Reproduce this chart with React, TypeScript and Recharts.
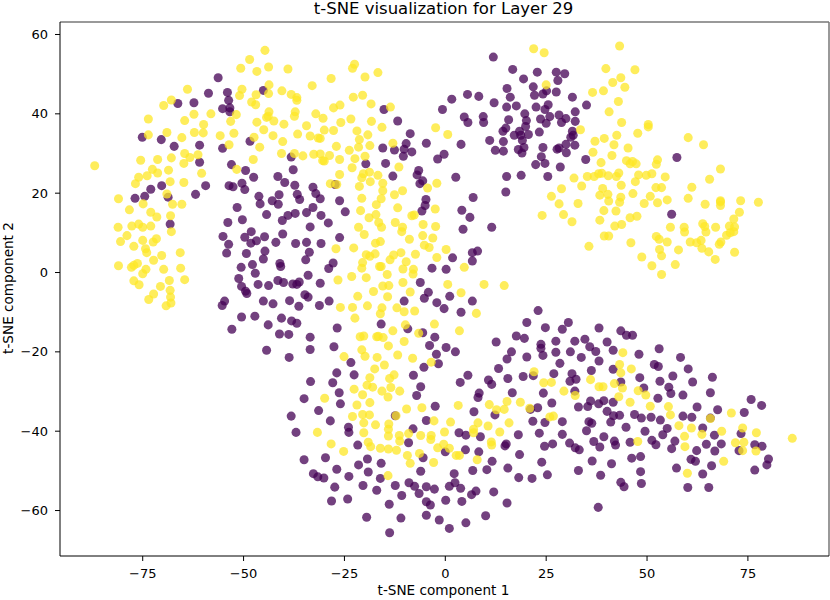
import { ScatterChart, Scatter, XAxis, YAxis, ZAxis, ReferenceLine } from "recharts";

const title = "t-SNE visualization for Layer 29";
const xLabel = "t-SNE component 1";
const yLabel = "t-SNE component 2";
const xTicks = [-75, -50, -25, 0, 25, 50, 75];
const yTicks = [-60, -40, -20, 0, 20, 40, 60];
const xRange: [number, number] = [-95.5, 95.1];
const yRange: [number, number] = [-71.46, 63.15];

// class 0 as [component 1, component 2]
const purplePoints: [number, number][] = [
  [-56.3,49.1],[-58.7,45.2],[-54,45.4],[-45.1,45.9],[-66.3,42.6],[-62.3,42.8],[-53.7,43.4],[-55.2,41.3],[-53.4,41.5],[-53.4,40.5],
  [-75.1,34.1],[-70.4,33.5],[-67.2,31.8],[-60.9,32.1],[-55.2,31.3],[-48.4,33.1],[-38.2,29.1],[-60.9,27.8],[-53,27.2],[-49.5,25.7],
  [-47.5,24],[-37.7,25.9],[-41.5,24.2],[-39.8,22.7],[-37.3,22],[-32.8,21.5],[-53.6,21.9],[-52.6,21.6],[-50.4,22.5],[-49.7,20.9],
  [-59.4,21.9],[-70.3,21.9],[-73,21],[-76.9,18.7],[-74.5,19.2],[-68.7,19],[-61.9,19.7],[-46.2,19.2],[-41.2,19.6],[-42.9,18.1],
  [-36.7,19.7],[-32.1,19.9],[-36.1,18.4],
  [11.9,54.3],[16.7,51.2],[22.8,50.5],[27.5,50.5],[29.6,50.1],[19.4,48.8],[27.9,48.4],[21.8,46.8],[15.3,46.4],[22.1,44.7],[24.2,45],
  [25.1,45.8],[27.5,45.5],[16.1,44.2],[31.5,44.2],[5.5,44.9],[8.3,44.4],[1.6,43.7],[12.1,42.8],[15.2,41.7],[17.6,42],[22.5,41.7],
  [25.5,42.3],[24.7,41.1],[-0.7,41.1],[-15.2,41.1],[-11.8,38.2],[4.7,39.2],[5.6,37.8],[9.4,39.3],[9.5,37.8],[19.7,40],[20.1,38.3],
  [15.7,38.5],[23.6,38.7],[25.9,39.3],[28.2,39.7],[29.9,38.8],[28.8,37.8],[25,37.6],[32.2,40.5],[32.2,38.1],[19.9,36.8],[15,36.4],
  [14.3,35.6],[18.4,35.6],[17.1,34.6],[18.7,34.6],[20.6,34.8],[23.3,35.4],[31.5,35.6],[31.1,34.1],[31.7,34.6],[-8.7,35],[14.4,33],
  [11,33.3],[19.1,33.3],[-4.7,32.6],[3.9,32.3],[-9.7,32.5],[-10.2,31.1],[-15.5,31.4],[-12.6,30.9],[-8.3,30.4],[-10.4,29.3],[-0.3,29.8],
  [-1.9,28.6],[12.4,30.8],[14.4,30.6],[19.5,31.5],[18.1,31],[19,30.1],[24.2,31.5],[27.7,31.1],[28.2,31.4],[29.9,32.3],[30,30.2],
  [32.1,32.1],[23.8,29.2],[22.4,27.2],[24.7,27.5],[28.5,26.6],[-19.7,27.4],[-14.8,27.5],[-13,24.3],[-6.6,25.7],[-7,24.6],[-5.6,23.1],
  [-6.3,22.4],[2.6,24],[15.2,24.2],[18.8,24.5],[25.4,24.2],[-27.3,22.2],[15,20.3],[6.9,18.9],[-4.8,18.4],[-26.2,18.1],[-31,18.6],
  [35,42.2],[34.8,28.5],[57.4,29],[56.1,14.7],
  [-24.8,15.3],[-30.8,14.4],[-29,12.5],[-26.2,8.8],[-30.8,7.3],[-5,16.9],[-5.8,15.5],[4.1,15.7],[6.1,13.9],[4.4,10.9],[11.5,11.4],
  [1.8,3.7],[6.7,5],[8,5.4],[6.7,2.9],[-3.3,1.1],[0.2,0.8],[-27.8,2.4],[-28.9,1],[-31,-2.7],[-6.2,-2.5],[-4.2,-5],[-5.2,-6.5],[1.1,-6],
  [6.7,-7.2],[-28.8,-7.2],[-10.2,-7.2],[-2.1,-7.6],[-0.3,-9.1],[3.9,-10],[-31.2,-8.3],[23,-9.6],[20.2,-12.6],[30.5,-12.6],[24.8,-13.9],
  [29,-14.3],[-15.9,-13],[-9.3,-14.2],[-5.6,-15.2],[-26.8,-14],[-2.6,-16.3],[17.6,-16],[19.6,-16.6],[12.6,-17.5],[27.4,-17.3],[32.1,-17.3],
  [23.7,-18.1],[23.7,-19.1],[24.2,-20.9],[27.4,-20.1],[31,-20],[-27.6,-18.7],[-3.9,-18.4],[0.2,-18.9],[2.5,-20],[-2.2,-20.6],[16.4,-20],
  [15.3,-21.8],[20.2,-21.3],[-23.4,-22.7],[-1.7,-23],[-5.3,-23.9],[28.4,-22.9],[13.2,-24.2],
  [-68.2,12.2],[-51.6,16.4],[-44.3,14.6],[-45.9,17.3],[-41.4,17.2],[-39,14.4],[-37.2,14.9],[-34.4,15.1],[-32.8,16.4],[-40.4,13.1],
  [-53.9,12.6],[-50.3,13.3],[-33.5,11.5],[-55.1,9.1],[-48.1,10.3],[-49.7,8.9],[-44.8,9],[-40.3,9.7],[-48.2,7.4],[-46.8,8],[-42,7.6],
  [-37.1,7.3],[-34.4,7.6],[-53.7,7.1],[-54.2,4.9],[-49.3,4.8],[-44.7,5.4],[-33.7,5.1],[-45.1,3.4],[-34.6,3.2],[-41,2.3],[-40.8,1.5],
  [-47.8,2],[-50.6,1.3],[-47.1,-0.2],[-34,-0.7],[-51.2,-1.5],[-41.5,-2],[-40.1,-2.5],[-37.8,-2.9],[-36.8,-3],[-36.2,-2.4],[-46.4,-3],
  [-43.8,-3.3],[-50.5,-3.5],[-49.5,-4.7],[-49.2,-5.3],[-34.8,-5.6],[-34,-6.2],[-45.1,-7.2],[-42.7,-7.9],[-38.6,-7.1],[-36.3,-8.5],
  [-54.7,-7.2],[-55.3,-8.3],[-50.5,-11.2],[-47.2,-11],[-40.6,-11.5],[-38.1,-12.2],[-36.8,-12.8],[-43.9,-13.2],[-52.9,-14.3],[-41.1,-15.5],
  [-38.8,-15.6],[-33.5,-16.3],[-44.3,-19.6],[-33.5,-19.4],[-38.7,-21.4],
  [-26.9,-25.3],[-33.4,-27.5],[-27.9,-27.8],[-22.6,-25.8],[-7.9,-25.9],[5.6,-25.9],[3.7,-27.7],[10.7,-27.1],[11.5,-28.2],[15.5,-26.7],
  [19.3,-26.2],[-6.1,-28.8],[8.4,-30.4],[8.1,-31.5],[16.6,-30.3],[-26.3,-30.3],[-35,-31.8],[-7.1,-31],[-26,-33.1],[-2.5,-33.7],[-31.4,-34.8],
  [7.1,-35.1],[-38.2,-36.2],[12.3,-35.9],[-28.5,-37.4],[-12.4,-36.1],[-4.7,-37.3],[-24,-39],[-23.9,-40.3],[-37,-40.3],[-8,-39.4],[3.4,-40.4],
  [5.1,-41],[8.7,-41.4],[18.1,-40.9],[-9.1,-42.9],[-21.7,-43.5],[14.8,-43.7],[15.1,-43.2],[5,-44.7],[8.3,-45.2],[0,-45.2],[18.4,-45.9],
  [-5.5,-46.7],[-29.7,-46.7],[-35,-47.2],[-19.3,-47],[11.6,-47.6],[-21.5,-48.5],[-15.9,-48.1],[15.5,-49.3],[-26.9,-49.6],[6.8,-49.9],
  [10.3,-49.7],[-19.1,-50.3],[-6.1,-50.1],[-32.7,-50.7],[-31.6,-51.5],[-30.1,-51.8],[-23.9,-51.4],[-16.1,-51.9],[2.2,-50.7],[18.2,-51.7],
  [2.4,-53],[-9,-53],[-7.6,-53.9],[-20.4,-53.7],[-12.4,-53.7],[-4.7,-54],[-2.7,-54.6],[1,-53.9],[3.8,-54.4],[-27.4,-54.1],[-17,-54.9],
  [7.6,-55.1],[6.5,-56],[12,-55.3],[-6.5,-55.7],[-10.8,-56.2],[-28.2,-57.6],[-24.2,-57.1],[0.1,-57.4],[4.1,-57.7],[15.3,-58.1],[-13.9,-58.4],
  [-4.7,-57.8],[-3.7,-58.6],[-19.5,-61.7],[-11,-61.9],[-4.7,-61.2],[-1.5,-62.4],[10,-61.3],[5.1,-63.1],[1,-64.5],[-13.8,-65.6],
  [38.1,-14],[43.5,-14.7],[44.9,-15.8],[46.4,-15.8],[34.6,-16.8],[40.1,-17.5],[35.8,-18.7],[37.3,-19.9],[41.6,-19.6],[53,-19.2],[33.7,-21.4],
  [48,-20.6],[58.3,-21.4],[38.1,-22.3],[51.8,-23.2],[52.8,-23.7],[60.2,-24.3],[41.6,-24.4],[36.2,-24.7],[26.9,-25.5],[31.4,-25.5],[21.8,-26],
  [30.9,-27.4],[32.4,-26.9],[48.2,-26.5],[56.4,-26.1],[66.2,-26.4],[53.2,-27.4],[61.3,-27.6],[43.5,-27.6],[55.4,-28.9],[49.2,-29.1],[32.1,-29.9],
  [24.3,-30.4],[55.9,-30.5],[58.9,-30.9],[65.7,-30.3],[52.7,-31.7],[26.4,-32.9],[36,-32.4],[38,-33.1],[39.3,-32.3],[41.6,-32.7],[35.3,-33.8],
  [33,-33.9],[22.9,-34.1],[21.1,-34.5],[62.4,-33.9],[75.8,-32],[78.4,-33.5],[67.5,-34.6],[40.1,-35],[74.1,-35.3],[41.7,-36.1],[43.2,-36],
  [46.9,-35.8],[48.6,-36.7],[51,-36.5],[53.3,-37.2],[58.9,-36.2],[61.1,-36.5],[65.7,-36.7],[21.7,-37.5],[24.7,-37.8],[29,-37.6],[35.6,-37.6],
  [36.3,-38],[41,-37.7],[44.8,-39],[55,-39.3],[63.8,-39.2],[35,-39.9],[23.3,-40.5],[49.5,-40],[73.3,-40.6],[29,-40.8],[53.9,-40.9],[66.7,-41],
  [39.3,-41.4],[41.9,-42.5],[42.2,-43.5],[45.8,-42.8],[51.2,-42.3],[52.2,-43.4],[56.9,-42.5],[36.8,-42.6],[30.8,-43],[24.6,-43.8],[26.6,-43.2],
  [32.2,-44.2],[33.2,-44.7],[38.3,-44],[64.7,-43.3],[68.4,-43.2],[56.1,-44.4],[62.3,-44.9],[66.8,-45],[76.7,-43.4],[78.5,-43.8],[72.8,-44.9],
  [46.2,-46.8],[48.4,-46.4],[36.4,-47.5],[23.9,-47.8],[41.2,-48.2],[60.9,-47.1],[62,-47.6],[80.1,-47],[79.7,-48.5],[57.3,-49.3],[66,-48.7],
  [33,-49.9],[25.3,-51],[38.5,-51.1],[48.4,-50.2],[63.8,-50.8],[76.7,-49.8],[21.5,-51.9],[43.5,-52.9],[44.3,-54],[48.6,-53.2],[60.1,-54.2],
  [65.3,-54.2],[37.9,-59.2],
];

// class 1
const yellowPoints: [number, number][] = [
  [-86.9,26.9],[-44.7,56],[-48.5,53.7],[-50.7,51.5],[-46.7,50.7],[-43.8,51.8],[-39,51.3],[-33,47.1],[-63.9,46.2],[-50.4,46.2],[-51,44.6],
  [-43.7,47.3],[-43.8,45.1],[-46.9,44.8],[-48,43],[-47,42.3],[-40.5,45.8],[-38.2,44.9],[-36.8,44.1],[-36.8,43.4],[-67.9,43.5],[-69.8,42.1],
  [-73.6,38.7],[-62.3,39.9],[-64.6,38.3],[-58.1,40],[-51.8,39.8],[-53.2,38.1],[-59.9,37.3],[-43.7,40.5],[-43.9,39.4],[-44.3,39.1],[-42.5,38.2],
  [-46.7,37.9],[-37.2,40.5],[-37.4,39.4],[-32.1,40],[-40,37.4],[-45,36],[-34.4,37],[-69,35.3],[-73.6,34.7],[-62.2,35.3],[-60,35.2],[-65.3,34],
  [-55.8,34.5],[-52.4,35.1],[-47.4,34.1],[-42.7,34.5],[-40.3,33],[-36.6,34.9],[-33.5,34.4],[-31.5,33.9],[-53.6,32.2],[-46,31.6],[-64.6,30],
  [-61.3,29.7],[-67.9,28.9],[-63.3,29],[-71.3,28.5],[-75.5,28.3],[-64.8,27.5],[-47.6,28.5],[-40.6,30],[-37.4,30],[-35.3,29.4],[-32.6,29.8],
  [-31,29.9],[-72.6,26],[-71.3,25.1],[-68.6,25.8],[-73.9,24.4],[-76,24],[-60.4,25],[-51.7,26],[-76.8,22.4],[-68.2,22.9],[-64.8,22.7],[-81,18.6],
  [-69,19.8],
  [-22.5,52.5],[-23,51.5],[-28.3,48.9],[-19.9,49.3],[-16.7,50.4],[-22.8,44.2],[-20.5,44.7],[-27.7,41.5],[-26.1,42.2],[-18.4,42.5],[-13.6,41.7],
  [-30.3,38.9],[-25.9,37.8],[-23.4,38.7],[-18.3,38.1],[-15.7,36.6],[-30,35.9],[-27.7,35.8],[-21.9,35.7],[-19.2,34.7],[-31,33.8],[-21.3,33.5],
  [-21.5,31.6],[-18.7,32],[-27,31.8],[-23.8,30.8],[-13,32.6],[-28.7,29.5],[-30.4,28.2],[-30,28.1],[-26.2,28.5],[-22.4,28.7],[-19.9,29.3],
  [-23.1,26.4],[-11.5,26.6],[-26.2,24.7],[-18.8,25.3],[-20.3,24.9],[-20.7,23.9],[-16.7,24.5],[-28.5,22.4],[-26.9,22.2],[-18.6,22.9],[-21.3,21.7],
  [-15.5,22.5],[-15.5,20.6],[-10.6,20.6],[-12.6,19.6],[-20.7,18.7],[-15.9,18.6],[-4.4,21.3],[-2.1,22.5],[-2.4,36.5],[0.6,34.8],[21.9,56.4],
  [24.5,55.4],[25,47.3],[33.5,36],[31.9,23.8],[28.8,21.1],[26.3,19.2],
  [43.2,57.1],[39.8,51.4],[47,51.1],[43.5,49.1],[41.5,47.9],[44.5,46.7],[36.5,45.4],[39.2,45.8],[42.9,43.1],[40.6,40.5],[43.7,37.8],[50.3,37.3],
  [50.3,36.7],[47.7,35.1],[42.5,34.6],[39.4,33.8],[37.1,33.1],[41.8,32.2],[45.3,31.4],[60.2,34],[64,32.2],[36.6,30.3],[41.3,29.5],[38.6,27.7],
  [44.9,28.2],[45.8,27.4],[46.4,28],[47.3,27.4],[52.6,28.4],[52.3,27.3],[68.2,26.1],[35.2,24.2],[36.9,24.2],[38,24.9],[38.8,25],[40.4,24.4],
  [42.4,24.2],[43,25.1],[47.9,24.6],[49.8,24.5],[51.2,24.9],[54.5,24.1],[65.5,23.5],[33.8,21.8],[43.6,22],[47.1,22.9],[61.1,21.5],[52.2,21.4],
  [53.6,21.4],[39,21.2],[38.3,19.5],[40.3,19.7],[43.5,19],[46.5,19.9],[50.8,19.2],[60.2,18.7],[55,18.3],[68.2,18.1],[73.2,18.1],[77.6,17.7],
  [32.9,17.4],[40.5,18],[43.2,17.7],[49.3,17.4],[52.6,17.6],[64.4,17.2],[68.2,17.8],[68.2,16.9],[39.3,15.6],[42.3,15.5],[72.9,15.2],[71.5,13.5],
  [31.4,12.8],[38.3,13.2],[45.8,13.8],[47.5,14.2],[42,11.7],[43.7,12.1],[55.8,11.4],[59.2,11.4],[59.3,10.2],[63.8,12.3],[64.3,11.6],[64.6,10.2],
  [67,11.4],[70.4,11.7],[71.7,11.5],[71.5,10.3],[70.6,10],[69.7,9.4],[39.4,9.2],[40.5,9.2],[35.6,6.6],[46,7.5],[52.3,9.1],[53,8.4],[55,7.7],
  [63.4,8.1],[62.3,7.5],[60.7,7.7],[68.3,7.7],[67.9,7.1],[63.6,6.1],[65.3,5.2],[53.1,5.8],[57.8,5.7],[71.7,5.1],[53.6,4.2],[48.7,3.9],[66.9,3.3],
  [51.2,1.7],[57,2],[53.6,-0.5],[28.2,17.3],[24,14.4],[29.3,14.6],
  [-21,15.6],[-17.1,17.1],[-11.8,16.3],[-2.5,16],[-18.9,13.8],[-17.2,14.6],[-16.5,12.6],[-15.8,11.4],[-8.3,14.3],[-7.7,14.5],[-12.4,12.6],
  [-10.6,11.4],[-10.8,10.3],[-5.5,12.1],[-2.4,11.6],[-21.5,11.4],[-20.1,9.6],[-5.6,9.3],[-3.1,8.7],[-8.9,8.4],[-16.1,7.8],[-17.3,7.4],[-5.2,6.9],
  [-4,6.3],[-27.1,6],[-22.7,6.2],[0.2,5.8],[-11,5],[-7.4,4.6],[-2.1,3.8],[-12.8,4.4],[-13.7,3.2],[-19.6,4.5],[-18.7,4.1],[-17.4,4.7],[-20.5,2.5],
  [-20.7,1.1],[-9.7,2.7],[-10.5,0.9],[-16.3,1.5],[-15.9,1.5],[-7.9,0.8],[-8,-0.4],[4.7,1.3],[-14.4,-0.5],[-23.2,-1],[-26.6,-1.9],[-19.6,-1.3],
  [-10.5,-2.5],[0.6,-3],[9.6,-3],[14.6,-3.3],[-15.5,-3.4],[-14,-3.3],[-17.8,-4.8],[-8.7,-4.9],[3.9,-5.1],[-21.7,-6],[-14.3,-6.1],[-26,-8.8],
  [-23,-8.8],[-19.3,-8.4],[-15.7,-8.9],[-12,-8.9],[-7.6,-9.7],[-10.2,-9.9],[-16.1,-10.4],[7.7,-10.3],[-22.4,-11.5],[-2.7,-13],[-9.9,-13.2],
  [-13,-14.7],[3.5,-14.7],[-6.6,-15.3],[-21.1,-16.2],[-20.2,-16],[-17,-16.2],[-16.6,-16.1],[-15.4,-16.4],[-10.2,-17.4],[-14.1,-18.5],[-20.7,-19.5],
  [-19.9,-21.1],[-25.1,-21.2],[-16.9,-21.4],[-11.8,-20.8],[-8.1,-21.6],[-15.1,-23.3],[-3.5,-22.6],[-17.5,-24.3],
  [-74.9,17.3],[-67.6,17.2],[-65.3,17.2],[-78.3,15.8],[-73,15.2],[-71.5,14],[-68.1,14.3],[-81.1,11.4],[-77.7,11.7],[-76,12.2],[-75,11.4],[-73,11.7],
  [-67.9,10.3],[-78.9,9.3],[-80.5,7.8],[-75,8.1],[-72.4,7.7],[-71.6,8.5],[-77.2,6.6],[-74.3,6],[-74,5],[-65.7,5],[-70.3,4.3],[-72.3,3.1],[-81,1.7],
  [-76.3,2.3],[-77.2,1.8],[-77.8,1.3],[-74.2,0.8],[-75,-0.3],[-69.8,0.8],[-65.6,1.1],[-64.6,-1.8],[-68.4,-2],[-77.2,-2.1],[-75.9,-3.1],[-70.6,-3.5],
  [-68.2,-4.5],[-72.3,-5.4],[-68.1,-6.2],[-73.5,-6.8],[-68,-7.7],[-69.2,-8.4],
  [-12.7,-25.8],[-13.8,-26.7],[-18.7,-26.5],[-19.4,-28.4],[-18,-28.9],[-13.5,-29],[-22.6,-29.4],[-15.7,-29.9],[-11.3,-29.9],[-20.5,-30.8],[-14.2,-31.4],
  [-29.9,-31.7],[-18.7,-32.8],[-21.9,-33.4],[-9.6,-34.4],[-5.8,-34.1],[3.2,-33.5],[10.9,-33.3],[12.7,-34.6],[15.3,-32.5],[14.6,-34.5],[18.6,-32.7],
  [20.9,-34.2],[-23,-36.3],[-20.5,-35.8],[-18.8,-35.9],[-12.2,-36.1],[-2.8,-37.4],[1.3,-37.7],[8.1,-37.9],[15.8,-37.9],[-20.2,-37.9],[-17.3,-38.4],
  [-14,-38.2],[-14.1,-39.5],[10.6,-38.7],[7,-39.5],[7,-40.4],[13.5,-40.2],[-0.2,-40.2],[-31.7,-40.3],[-20.2,-40.4],[-14.1,-41.2],[-11.4,-41.1],
  [-9.1,-40.6],[-6.1,-41.1],[-3.5,-41.1],[-3.6,-42.1],[-11.3,-42.5],[11.4,-42.7],[11.5,-43.5],[-19.1,-42.8],[-28.3,-43.2],[-18.5,-43.9],[-16.1,-44.3],
  [-14.1,-44.5],[-12.1,-44.8],[-1.9,-44.2],[-0.4,-43.3],[1,-44.3],[-25.2,-45.1],[-6.4,-45.6],[-9.4,-46.1],[2.7,-46.1],[3.5,-46.1],[7.9,-47.2],
  [-2.9,-47.9],[-8.7,-48.1],[-14.2,-51.2],
  [22,-25],[44,-20.2],[43.2,-23.2],[43.5,-25.3],[46.1,-24.3],[36,-27],[24.4,-27.8],[26.3,-27.7],[38.1,-28.8],[39.1,-28.8],[41.9,-28],[43.9,-29.1],
  [29.4,-29.9],[32.2,-31],[47.8,-29.8],[49.7,-30.9],[43,-31.3],[45.8,-32.7],[50.8,-33.7],[55.3,-33.8],[55.8,-35.9],[70.9,-35.4],[25.9,-36.4],[26.8,-36.2],
  [65.7,-36.8],[57.9,-38.6],[61,-39.2],[73.7,-39.2],[68.5,-40],[77.1,-40.4],[63.6,-40.8],[59.3,-41.3],[86,-41.8],[47.7,-42.6],[71.9,-42.9],[74,-42.8],
  [59.4,-43.9],[73.7,-44.9],[77,-45],[69,-47.6],[60,-50.6],
];

const toRows = (points: [number, number][]) => points.map(([x, y]) => ({ x, y }));
const formatTick = (value: number) => String(value).replace("-", "\u2212");

const font = "DejaVu Sans";
const tickStyle = { fill: "#000", fontSize: 13, fontFamily: font };

export default function App() {
  return (
    <div style={{ position: "absolute", left: 0, top: 0, width: 830, height: 600 }}>
      <ScatterChart
        width={830}
        height={600}
        margin={{ top: 22, right: 1, bottom: 0, left: 0 }}
      >
        <XAxis
          type="number"
          dataKey="x"
          domain={xRange}
          ticks={xTicks}
          tickFormatter={formatTick}
          tick={tickStyle}
          stroke="#000"
          tickSize={5}
          tickMargin={8}
          height={44}
          allowDataOverflow
        />
        <YAxis
          type="number"
          dataKey="y"
          domain={yRange}
          ticks={yTicks}
          tickFormatter={formatTick}
          tick={tickStyle}
          stroke="#000"
          tickSize={5}
          tickMargin={7}
          width={60}
          allowDataOverflow
        />
        <ZAxis range={[95, 95]} />
        <ReferenceLine y={yRange[1]} stroke="#777" strokeWidth={1.5} />
        <ReferenceLine x={xRange[1]} stroke="#777" strokeWidth={1.5} />
        <Scatter data={toRows(purplePoints)} fill="#440154" fillOpacity={0.75} isAnimationActive={false} />
        <Scatter data={toRows(yellowPoints)} fill="#fde725" fillOpacity={0.75} isAnimationActive={false} />
        <text x={443.5} y={13.5} textAnchor="middle" fontSize={16.5} fontFamily={font} fill="#000">
          {title}
        </text>
        <text x={443.5} y={595} textAnchor="middle" fontSize={13.6} fontFamily={font} fill="#000">
          {xLabel}
        </text>
        <text x={13} y={288} textAnchor="middle" fontSize={13.6} fontFamily={font} fill="#000" transform="rotate(-90 13 288)">
          {yLabel}
        </text>
      </ScatterChart>
    </div>
  );
}
